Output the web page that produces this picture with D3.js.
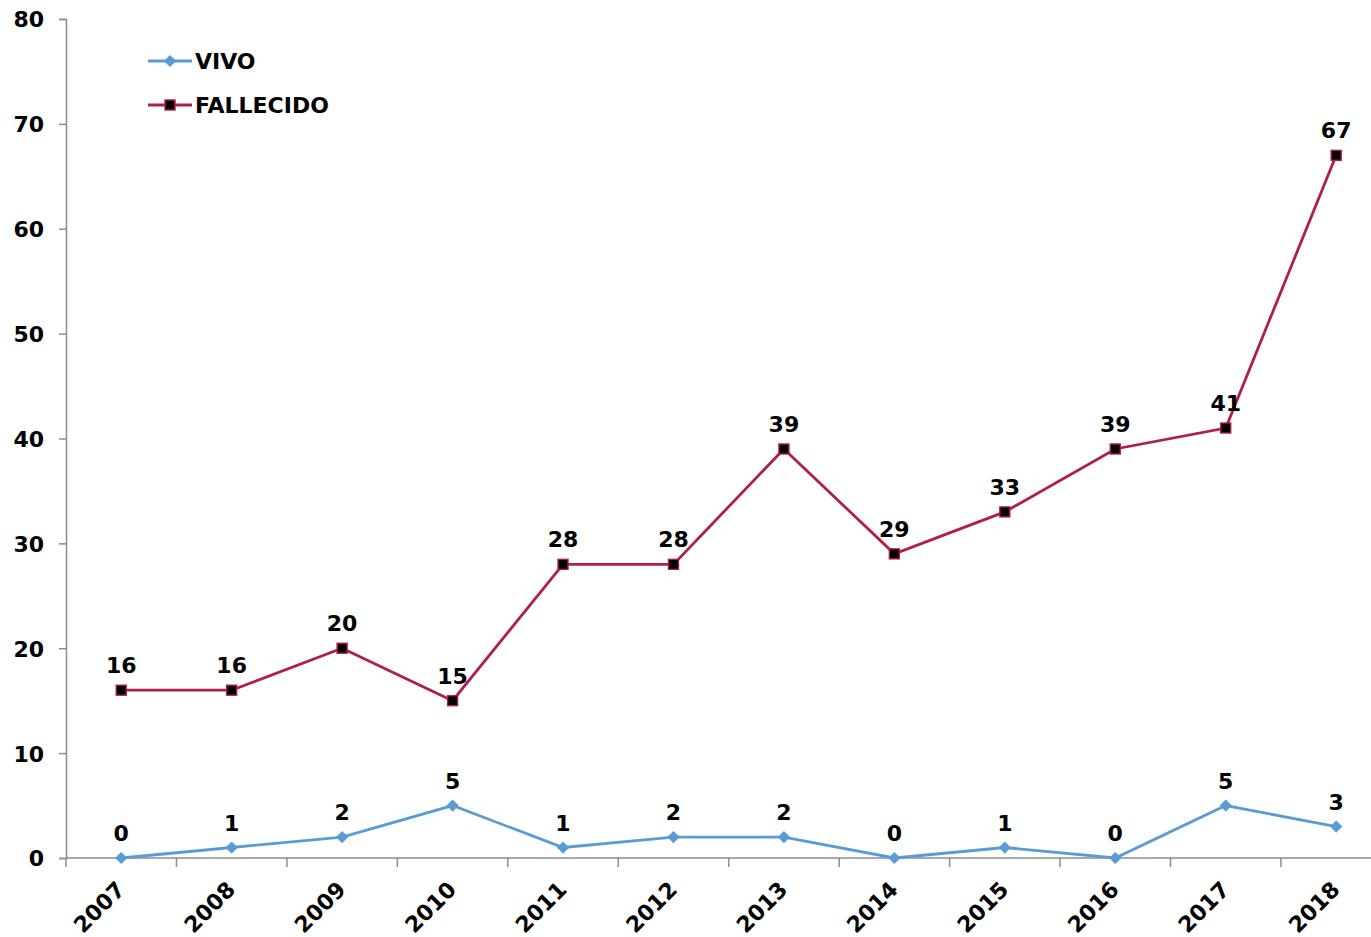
<!DOCTYPE html>
<html>
<head>
<meta charset="utf-8">
<script src="https://cdn.jsdelivr.net/npm/d3@7"></script>
<style>
  html, body { margin: 0; padding: 0; background: #fff; }
  svg text { font-family: "DejaVu Sans", Verdana, sans-serif; font-weight: bold; fill: #000; }
</style>
</head>
<body>
<svg id="chart" width="1371" height="937"></svg>
<script>
const years = ["2007","2008","2009","2010","2011","2012","2013","2014","2015","2016","2017","2018"];
const vivo = [0, 1, 2, 5, 1, 2, 2, 0, 1, 0, 5, 3];
const fallecido = [16, 16, 20, 15, 28, 28, 39, 29, 33, 39, 41, 67];
const yTicks = [0, 10, 20, 30, 40, 50, 60, 70, 80];
const seriesNames = ["VIVO", "FALLECIDO"];

const blue = "#5b9bd5";
const crimson = "#ae1e4e";
const axisGray = "#8c8c8c";
const fontSize = "22px";

const svg = d3.select("#chart");
const plotLeft = 66, plotTop = 19, plotBottom = 858;
const step = 110.45;

const x = d3.scaleBand().domain(years).range([plotLeft, plotLeft + step * years.length]).padding(0);
const y = d3.scaleLinear().domain([0, 80]).range([plotBottom, plotTop]);
const cx = d => x(d) + x.bandwidth() / 2;

// y axis
const gy = svg.append("g").attr("transform", `translate(${plotLeft},0)`)
  .call(d3.axisLeft(y).tickValues(yTicks).tickSize(7).tickPadding(15).tickFormat(d3.format("d")));
gy.select(".domain").attr("stroke", axisGray).attr("stroke-width", 1.5);
gy.selectAll(".tick line").attr("stroke", axisGray).attr("stroke-width", 1.5);
gy.selectAll(".tick text").style("font-size", fontSize).attr("dy", "0.36em");

// x axis line and ticks at category boundaries
svg.append("line").attr("x1", plotLeft).attr("x2", 1371).attr("y1", plotBottom).attr("y2", plotBottom)
  .attr("stroke", axisGray).attr("stroke-width", 1.5);
const boundaries = years.map(d => x(d));
svg.append("g").selectAll("line").data(boundaries).join("line")
  .attr("x1", d => d).attr("x2", d => d).attr("y1", plotBottom).attr("y2", plotBottom + 9)
  .attr("stroke", axisGray).attr("stroke-width", 1.5);

// x labels rotated
svg.append("g").selectAll("text").data(years).join("text")
  .attr("text-anchor", "end")
  .attr("transform", d => `translate(${cx(d) + 5},${plotBottom + 33}) rotate(-45)`)
  .style("font-size", fontSize)
  .text(d => d);

const line = d3.line().x((d, i) => cx(years[i])).y(d => y(d));

// FALLECIDO series
svg.append("path").datum(fallecido).attr("d", line)
  .attr("fill", "none").attr("stroke", crimson).attr("stroke-width", 2.8);
svg.append("g").selectAll("rect").data(fallecido).join("rect")
  .attr("x", (d, i) => cx(years[i]) - 5).attr("y", d => y(d) - 5)
  .attr("width", 10).attr("height", 10)
  .attr("fill", "#000").attr("stroke", crimson).attr("stroke-width", 1.4);

// VIVO series
svg.append("path").datum(vivo).attr("d", line)
  .attr("fill", "none").attr("stroke", blue).attr("stroke-width", 2.8);
const diamond = d3.symbol().type(d3.symbolSquare).size(75);
svg.append("g").selectAll("path").data(vivo).join("path")
  .attr("d", diamond)
  .attr("transform", (d, i) => `translate(${cx(years[i])},${y(d)}) rotate(45)`)
  .attr("fill", blue);

// data labels
svg.append("g").selectAll("text").data(fallecido).join("text")
  .attr("x", (d, i) => cx(years[i])).attr("y", d => y(d) - 17)
  .attr("text-anchor", "middle").style("font-size", fontSize).text(d => d);
svg.append("g").selectAll("text").data(vivo).join("text")
  .attr("x", (d, i) => cx(years[i])).attr("y", d => y(d) - 17)
  .attr("text-anchor", "middle").style("font-size", fontSize).text(d => d);

// legend
const legend = svg.append("g");
const legendRows = [
  { name: seriesNames[0], color: blue, yy: 61, marker: "diamond" },
  { name: seriesNames[1], color: crimson, yy: 105, marker: "square" }
];
legendRows.forEach(r => {
  legend.append("line").attr("x1", 148).attr("x2", 192).attr("y1", r.yy).attr("y2", r.yy)
    .attr("stroke", r.color).attr("stroke-width", 2.8);
  if (r.marker === "diamond") {
    legend.append("path").attr("d", diamond)
      .attr("transform", `translate(170,${r.yy}) rotate(45)`).attr("fill", r.color);
  } else {
    legend.append("rect").attr("x", 165).attr("y", r.yy - 5).attr("width", 10).attr("height", 10)
      .attr("fill", "#000").attr("stroke", r.color).attr("stroke-width", 1.4);
  }
  legend.append("text").attr("x", 195).attr("y", r.yy + 8).style("font-size", fontSize).text(r.name);
});
</script>
</body>
</html>
